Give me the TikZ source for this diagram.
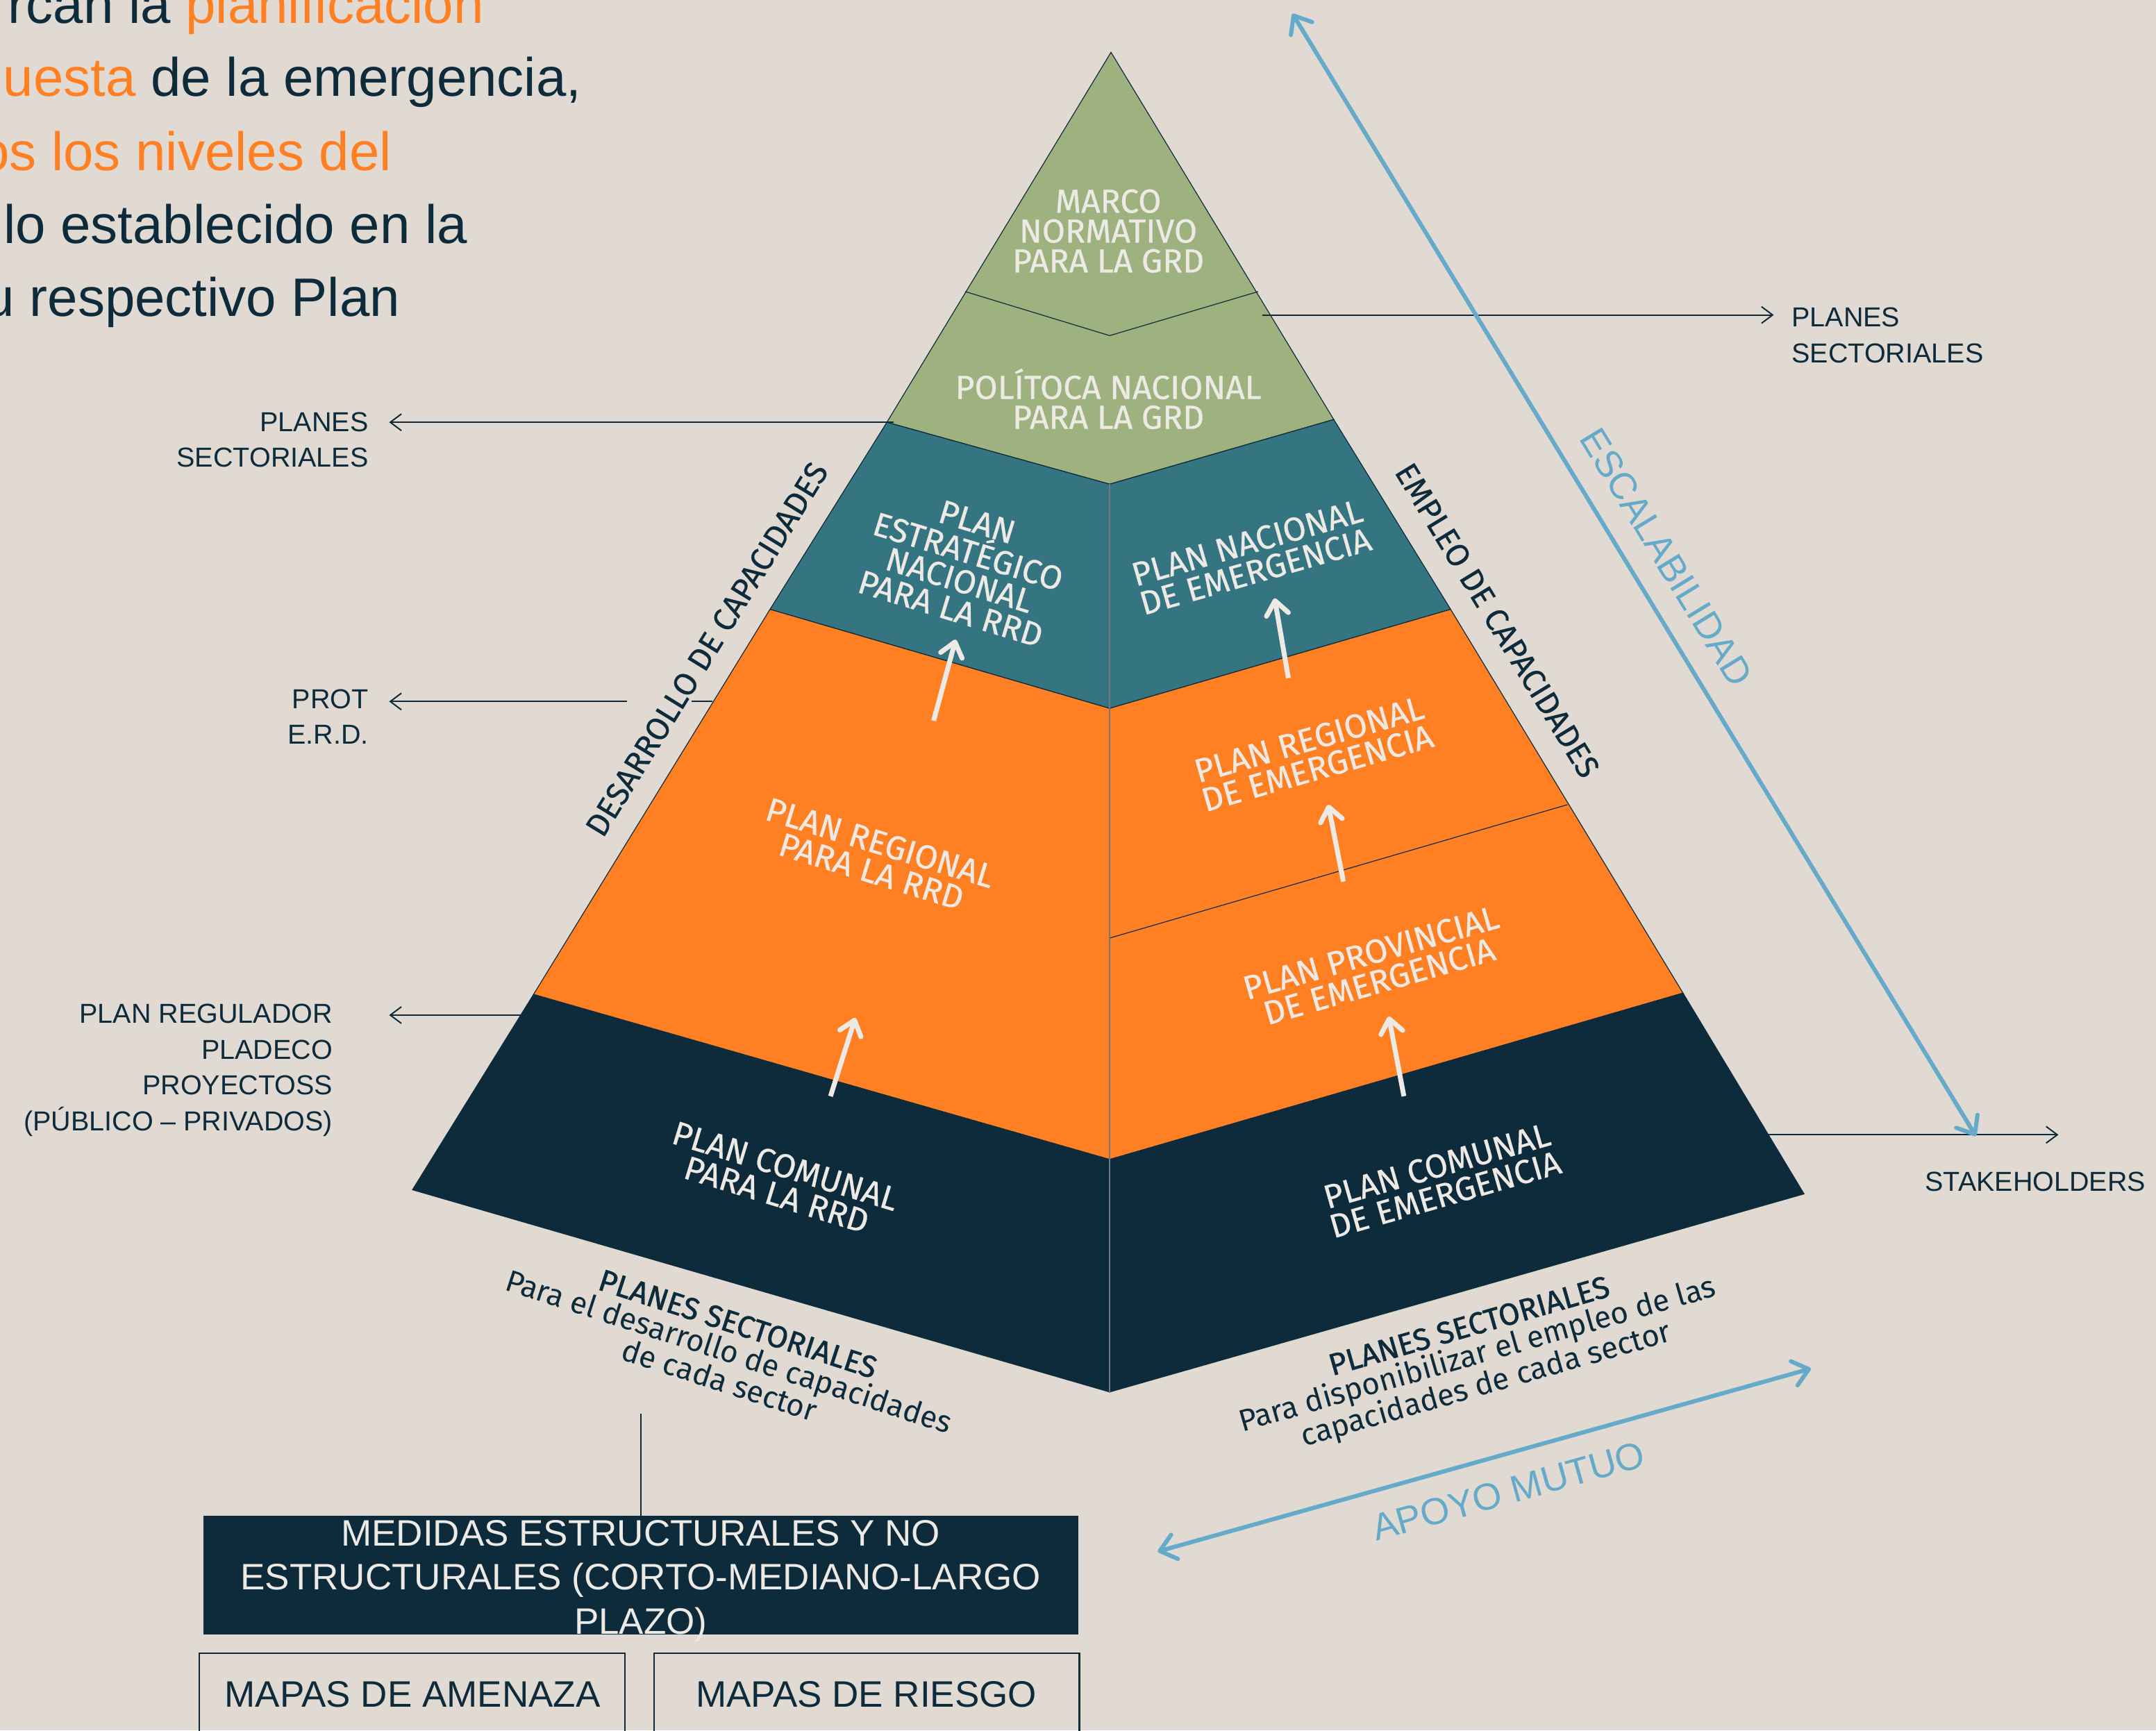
\documentclass[tikz,border=0pt]{standalone}
\usepackage{fontspec}
\setmainfont{Liberation Sans}
\newfontfamily\pyr{Fira Sans}
\newfontfamily\pyrmed[FakeBold=0.6]{Fira Sans}
\newfontfamily\pyrsemi[FakeBold=1.4]{Fira Sans}
\usetikzlibrary{arrows.meta}
\definecolor{bg}{HTML}{E0DAD3}
\definecolor{grn}{HTML}{9DB27E}
\definecolor{tealc}{HTML}{347581}
\definecolor{orng}{HTML}{FF8022}
\definecolor{navy}{HTML}{0E2B3B}
\definecolor{lblue}{HTML}{66AACA}
\definecolor{cream}{HTML}{EDE9E4}
\definecolor{midline}{HTML}{6E7A80}
\begin{document}
\begin{tikzpicture}[x=1.9802pt,y=-1.9809pt,
  layer/.style={draw=navy,line width=1.2pt},
  pl/.style={font=\pyrmed\fontsize{48}{43}\selectfont,text=cream,align=center,inner sep=0pt},
  sidelbl/.style={font=\pyrmed\fontsize{46}{43}\selectfont,text=navy,inner sep=0pt},
  ann/.style={font=\fontsize{39.5}{51.5}\selectfont,text=navy,inner sep=0pt},
  annarrow/.style={draw=navy,line width=2pt,-{Straight Barb[length=16pt,width=24pt]}},
  whitearrow/.style={draw=cream,line width=7pt,-{Straight Barb[length=20pt,width=32pt,round]}},
  bluearrow/.style={draw=lblue,line width=6pt,{Straight Barb[length=22pt,width=36pt,round]}-{Straight Barb[length=22pt,width=36pt,round]}},
  bluelbl/.style={font=\fontsize{54}{60}\selectfont,text=lblue,inner sep=0pt},
  botlbl/.style={font=\pyr\fontsize{44}{42}\selectfont,text=navy,align=center,inner sep=0pt},
  boxtxt/.style={font=\fontsize{53}{63.5}\selectfont,align=center,inner sep=0pt},
  toptxt/.style={font=\fontsize{78}{105}\selectfont,text=navy,anchor=base east,inner sep=0pt}
]
\useasboundingbox (0,0) rectangle (1568,1258);
\fill[bg] (0,0) rectangle (1568,1258);

% pyramid coordinates
\coordinate (A) at (808,38);
\coordinate (G1L) at (702,212); \coordinate (G1C) at (807,244); \coordinate (G1R) at (915,212);
\coordinate (G2L) at (645,307); \coordinate (G2C) at (807,352); \coordinate (G2R) at (970,305);
\coordinate (TL) at (560,443); \coordinate (TC) at (807,515); \coordinate (TR) at (1055,443);
\coordinate (MC) at (807,682); \coordinate (MR) at (1140,585);
\coordinate (OL) at (388,723); \coordinate (OC) at (807,843); \coordinate (OR) at (1224,722);
\coordinate (BL) at (300,865); \coordinate (BC) at (807,1012); \coordinate (BR) at (1312,868);

% layers
\filldraw[layer,fill=grn] (A) -- (G2R) -- (G2C) -- (G2L) -- cycle;
\draw[layer] (G1L) -- (G1C) -- (G1R);
\filldraw[layer,fill=tealc] (G2L) -- (G2C) -- (TC) -- (TL) -- cycle;
\filldraw[layer,fill=tealc] (G2C) -- (G2R) -- (TR) -- (TC) -- cycle;
\filldraw[layer,fill=orng] (TL) -- (TC) -- (OC) -- (OL) -- cycle;
\filldraw[layer,fill=orng] (TC) -- (TR) -- (OR) -- (OC) -- cycle;
\draw[layer] (MC) -- (MR);
\filldraw[layer,fill=navy] (OL) -- (OC) -- (BC) -- (BL) -- cycle;
\filldraw[layer,fill=navy] (OC) -- (OR) -- (BR) -- (BC) -- cycle;
\draw[midline,line width=1.3pt] (G2C) -- (BC);

% pyramid labels
\node[pl] (marco) at (806,168) {MARCO\\NORMATIVO\\PARA LA GRD};
\node[pl] (politica) at (806,290) {POLÍTOCA NACIONAL\\PARA LA GRD};
\node[pl,rotate=-17] (estrat) at (701,411) {PLAN\\ESTRATÉGICO\\NACIONAL\\PARA LA RRD};
\node[pl,rotate=16] (nacem) at (910,405) {PLAN NACIONAL\\DE EMERGENCIA};
\node[pl,rotate=-17] (regrrd) at (637,623) {PLAN REGIONAL\\PARA LA RRD};
\node[pl,rotate=16] (regem) at (955,548) {PLAN REGIONAL\\DE EMERGENCIA};
\node[pl,rotate=16] (provem) at (1000,703) {PLAN PROVINCIAL\\DE EMERGENCIA};
\node[pl,rotate=-17] (comrrd) at (568,858) {PLAN COMUNAL\\PARA LA RRD};
\node[pl,rotate=16] (comem) at (1048,858) {PLAN COMUNAL\\DE EMERGENCIA};

% white arrows
\coordinate (w1a) at (604,797); \coordinate (w1b) at (622,740);
\coordinate (w2a) at (679,524); \coordinate (w2b) at (695,465);
\coordinate (w3a) at (937,493); \coordinate (w3b) at (927,435);
\coordinate (w4a) at (977,641); \coordinate (w4b) at (966,585);
\coordinate (w5a) at (1021,797); \coordinate (w5b) at (1010,739);
\draw[whitearrow] (w1a) -- (w1b);
\draw[whitearrow] (w2a) -- (w2b);
\draw[whitearrow] (w3a) -- (w3b);
\draw[whitearrow] (w4a) -- (w4b);
\draw[whitearrow] (w5a) -- (w5b);

% side labels
\node[sidelbl,rotate=58.4] (desarrollo) at (514,472) {DESARROLLO DE CAPACIDADES};
\node[sidelbl,rotate=-58.6] (empleo) at (1089,451) {EMPLEO DE CAPACIDADES};

% annotation labels
\node[ann,anchor=north west,align=left] (psR) at (1303,223.7) {PLANES\\SECTORIALES};
\node[ann,anchor=north east,align=right] (psL) at (268,299.7) {PLANES\\SECTORIALES};
\node[ann,anchor=north east,align=right] (prot) at (268,501) {PROT\\E.R.D.};
\node[ann,anchor=north east,align=right] (preg) at (242,730) {PLAN REGULADOR\\PLADECO\\PROYECTOSS\\(PÚBLICO – PRIVADOS)};
\node[ann,anchor=north west] (stake) at (1400,852) {STAKEHOLDERS};

% annotation connectors
\coordinate (aR1) at (918,229); \coordinate (aR2) at (1290,229);
\coordinate (aL1) at (650,307); \coordinate (aL2) at (283,307);
\coordinate (aP0) at (518,510); \coordinate (aP1) at (503,510);
\coordinate (aP2) at (456,510); \coordinate (aP3) at (283,510);
\coordinate (aG1) at (380,738); \coordinate (aG2) at (283,738);
\coordinate (aS1) at (1285,825); \coordinate (aS2) at (1497,825);
\draw[annarrow] (aR1) -- (aR2);
\draw[annarrow] (aL1) -- (aL2);
\draw[draw=navy,line width=2pt] (aP0) -- (aP1);
\draw[annarrow] (aP2) -- (aP3);
\draw[annarrow] (aG1) -- (aG2);
\draw[annarrow] (aS1) -- (aS2);

% blue arrows
\coordinate (e1) at (940,10); \coordinate (e2) at (1437,826);
\coordinate (m1) at (842,1128); \coordinate (m2) at (1317,995);
\draw[bluearrow] (e1) -- (e2);
\draw[bluearrow] (m1) -- (m2);
\node[bluelbl,rotate=-58.6] (escal) at (1212,405) {ESCALABILIDAD};
\node[bluelbl,rotate=15.6] (apoyo) at (1097,1084) {APOYO MUTUO};

% bottom labels
\node[botlbl,rotate=-18] (secL) at (530,983) {{\pyrsemi PLANES SECTORIALES}\\Para el desarrollo de capacidades\\de cada sector};
\node[botlbl,rotate=16] (secR) at (1075,987) {{\pyrsemi PLANES SECTORIALES}\\Para disponibilizar el empleo de las\\capacidades de cada sector};

% medidas box
\coordinate (vl1) at (466,1028);
\node[fill=navy,minimum width=636*1.9802pt,minimum height=86*1.9809pt,inner sep=0pt,anchor=north west] (medbox) at (148,1102) {};
\node[boxtxt,text=cream,anchor=north] (medtxt) at (466,1105) {MEDIDAS ESTRUCTURALES Y NO\\ESTRUCTURALES (CORTO-MEDIANO-LARGO\\PLAZO)};
\draw[navy,line width=2pt] (vl1) -- (medbox.north -| vl1);

% mapas boxes
\draw[navy,line width=2.5pt] (145,1310) -- (145,1202) -- (454.5,1202) -- (454.5,1310);
\draw[navy,line width=2.5pt] (475.7,1310) -- (475.7,1202) -- (785,1202) -- (785,1310);
\node[boxtxt,text=navy] (amen) at (300,1232) {MAPAS DE AMENAZA};
\node[boxtxt,text=navy] (riesgo) at (630,1232) {MAPAS DE RIESGO};

% top-left text
\node[toptxt] (t1) at (352,16.7) {rcan la \textcolor{orng}{planificación}};
\node[toptxt] (t2) at (423,69.7) {\textcolor{orng}{uesta} de la emergencia,};
\node[toptxt,text=orng] (t3) at (285,123.7) {os los niveles del};
\node[toptxt] (t4) at (340,176.7) {lo establecido en la};
\node[toptxt] (t5) at (291,229.8) {u respectivo Plan};
\end{tikzpicture}
\end{document}
